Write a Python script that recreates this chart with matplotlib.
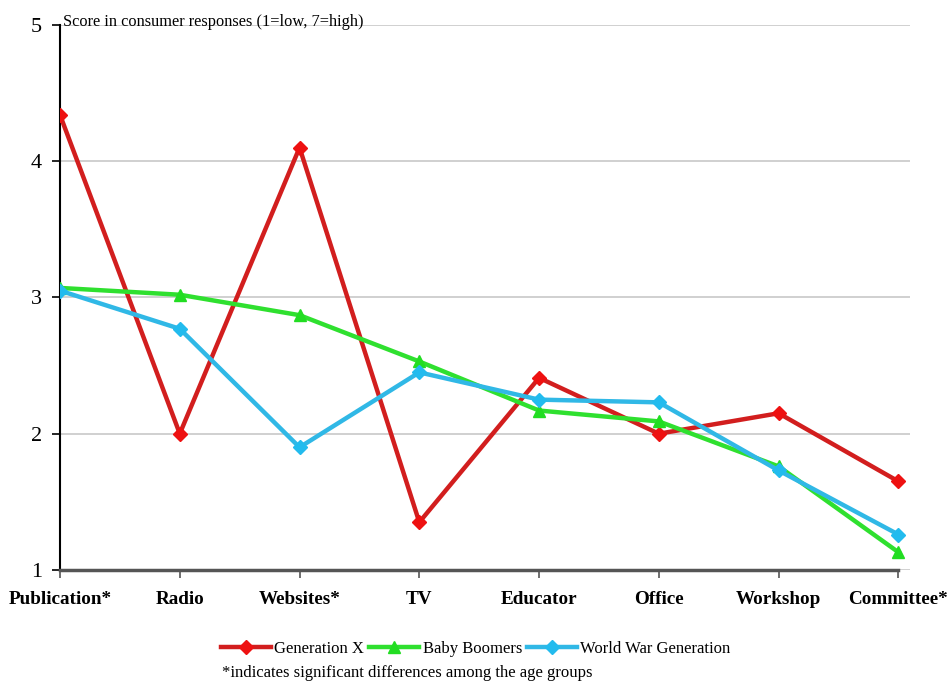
import matplotlib
matplotlib.use("Agg")
import matplotlib.pyplot as plt

categories = ["Publication*", "Radio", "Websites*", "TV", "Educator", "Office", "Workshop", "Committee*"]
gen_x = [4.34, 2.00, 4.10, 1.35, 2.41, 2.00, 2.15, 1.65]
baby_boomers = [3.07, 3.02, 2.87, 2.53, 2.17, 2.09, 1.76, 1.13]
world_war = [3.05, 2.77, 1.90, 2.45, 2.25, 2.23, 1.73, 1.26]
y_ticks = [1, 2, 3, 4, 5]

plt.rcParams['font.family'] = ['Liberation Serif', 'DejaVu Serif']

fig = plt.figure(figsize=(9.48, 6.85), dpi=100)
ax = fig.add_axes([0.0633, 0.168, 0.897, 0.7955])

x = list(range(len(categories)))
ax.plot(x, gen_x, color='#d21e1e', lw=3.2, marker='D', ms=7, mfc='#ee1111', mec='#ee1111',
        label='Generation X', zorder=3)
ax.plot(x, baby_boomers, color='#2fe02f', lw=3.2, marker='^', ms=9, mfc='#22dd22', mec='#22dd22',
        label='Baby Boomers', zorder=4)
ax.plot(x, world_war, color='#30b8e6', lw=3.2, marker='D', ms=7, mfc='#22bbee', mec='#22bbee',
        label='World War Generation', zorder=5)

ax.set_xlim(0, 7.1)
ax.set_ylim(1, 5)
ax.set_yticks(y_ticks)
ax.set_yticklabels([str(v) for v in y_ticks], fontsize=16)
ax.set_xticks(x)
ax.set_xticklabels(categories, fontsize=13.8, fontweight='bold')
ax.tick_params(axis='x', length=6, width=1.2, color='#555555', pad=9)
ax.tick_params(axis='y', length=6, width=1.2, color='black', pad=7)

ax.grid(axis='y', color='#c8c8c8', lw=1.2)
ax.set_axisbelow(True)
for s in ['top', 'right']:
    ax.spines[s].set_visible(False)
ax.spines['left'].set_color('black')
ax.spines['left'].set_linewidth(1.5)
ax.spines['bottom'].set_color('#555555')
ax.spines['bottom'].set_linewidth(2.5)
ax.spines['bottom'].set_bounds(0, 7)

ax.text(0.004, 0.99, "Score in consumer responses (1=low, 7=high)", transform=ax.transAxes,
        fontsize=11.8, va='bottom', ha='left')

fig.legend(loc='center', bbox_to_anchor=(0.502, 0.053), ncol=3, frameon=False,
           fontsize=12, handlelength=3.0, handletextpad=0.2, columnspacing=0.3)
fig.text(0.234, 0.018, "*indicates significant differences among the age groups",
         fontsize=12, ha='left', va='center')

fig.savefig("out.png", dpi=100)
